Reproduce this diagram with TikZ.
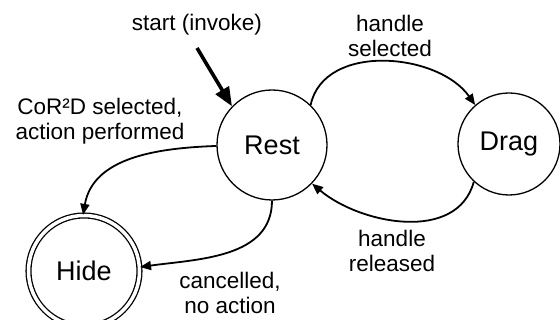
\documentclass[tikz,border=0pt]{standalone}
\usepackage{fontspec}
\setmainfont{Liberation Sans}
\usetikzlibrary{arrows.meta}
\begin{document}
\begin{tikzpicture}[x=1pt,y=1pt,
  state/.style={circle,draw,line width=1.3pt,inner sep=0pt,font=\fontsize{27}{30}\selectfont},
  lbl/.style={align=center,inner sep=0pt,font=\fontsize{22.5}{25}\selectfont},
  trans/.style={line width=1.8pt,-{Triangle[length=11pt,width=9pt]}},
  startarr/.style={line width=3.6pt,-{Triangle[length=19pt,width=15pt]}}]
\useasboundingbox (0,0) rectangle (560,320);
\clip (0,0) rectangle (560,320);
\node[state,minimum size=110pt] (rest) at (272,175) {Rest};
\node[state,minimum size=102pt] (drag) at (509,176) {Drag};
\node[state,minimum size=111pt,double,double distance=3.5pt,line width=1.3pt] (hide) at (84,49) {Hide};
\node[lbl] (tstart) at (197,295) {start (invoke)};
\node[lbl] (tcor) at (100,199) {CoR²D selected,\\action performed};
\node[lbl] (tsel) at (390,284.5) {handle\\selected};
\node[lbl] (trel) at (392,69.5) {handle\\released};
\node[lbl] (tcan) at (230,27.5) {cancelled,\\no action};
\coordinate (s0) at (197,272);
\draw[startarr] (s0) -- (rest.136);
\draw[trans] (rest.46) to[out=78,in=125] (drag.131);
\draw[trans] (drag.227) to[out=-105,in=-40] (rest.-44);
\draw[trans] (rest.181) to[out=182,in=80] (hide.91);
\draw[trans] (rest.270) to[out=-90,in=8] (hide.4);
\end{tikzpicture}
\end{document}
